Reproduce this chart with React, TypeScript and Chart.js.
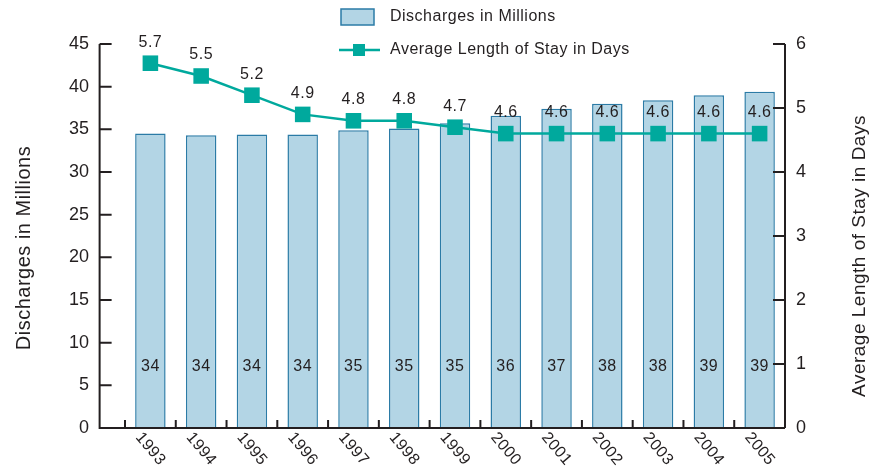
import React, { useEffect, useRef } from 'react';
import { Chart, registerables } from 'chart.js';

Chart.register(...registerables);

// ---- data ----
const years = ['1993', '1994', '1995', '1996', '1997', '1998', '1999', '2000', '2001', '2002', '2003', '2004', '2005'];
const discharges = [34.5, 34.3, 34.4, 34.4, 34.9, 35.1, 35.7, 36.6, 37.4, 38.0, 38.4, 39.0, 39.4];
const dischargeLabels = ['34', '34', '34', '34', '35', '35', '35', '36', '37', '38', '38', '39', '39'];
const stayDays = [5.7, 5.5, 5.2, 4.9, 4.8, 4.8, 4.7, 4.6, 4.6, 4.6, 4.6, 4.6, 4.6];
const stayLabels = ['5.7', '5.5', '5.2', '4.9', '4.8', '4.8', '4.7', '4.6', '4.6', '4.6', '4.6', '4.6', '4.6'];
const leftTicks = [0, 5, 10, 15, 20, 25, 30, 35, 40, 45];
const rightTicks = [0, 1, 2, 3, 4, 5, 6];
const barSeriesName = 'Discharges in Millions';
const lineSeriesName = 'Average Length of Stay in Days';
const leftAxisTitle = 'Discharges in Millions';
const rightAxisTitle = 'Average Length of Stay in Days';

// ---- styles ----
const BAR_FILL = '#B3D5E5';
const BAR_EDGE = '#2B7BA6';
const LINE = '#00A99D';
const INK = '#231F20';
const FONT = '"Liberation Sans", Arial, Helvetica, sans-serif';

const overlay = {
  id: 'overlay',
  afterDraw(chart: any) {
    const { ctx, chartArea, scales } = chart;
    const x = scales.x;
    const y = scales.y;
    const y1 = scales.y1;
    const step = x.getPixelForValue(1) - x.getPixelForValue(0);
    const axisLeft = x.getPixelForValue(-1);
    const axisRight = chartArea.right;
    const base = y.getPixelForValue(leftTicks[0]);
    const top = y.getPixelForValue(leftTicks[leftTicks.length - 1]);

    ctx.save();
    ctx.strokeStyle = INK;
    ctx.lineWidth = 2;
    ctx.lineCap = 'butt';
    // axis lines
    ctx.beginPath();
    ctx.moveTo(axisLeft, top);
    ctx.lineTo(axisLeft, base);
    ctx.lineTo(axisRight, base);
    ctx.moveTo(axisRight, base);
    ctx.lineTo(axisRight, y1.getPixelForValue(rightTicks[rightTicks.length - 1]));
    ctx.stroke();

    // tick marks
    ctx.beginPath();
    leftTicks.forEach((v) => {
      const py = y.getPixelForValue(v);
      ctx.moveTo(axisLeft, py);
      ctx.lineTo(axisLeft + 12, py);
    });
    rightTicks.forEach((v) => {
      const py = y1.getPixelForValue(v);
      ctx.moveTo(axisRight, py);
      ctx.lineTo(axisRight - 12, py);
    });
    for (let i = 0; i <= years.length; i++) {
      const px = x.getPixelForValue(i) - step / 2;
      ctx.moveTo(px, base);
      ctx.lineTo(px, base - 8);
    }
    ctx.stroke();

    // x labels (rotated clockwise)
    ctx.fillStyle = INK;
    (ctx as any).letterSpacing = '0.5px';
    ctx.font = `16px ${FONT}`;
    ctx.textAlign = 'center';
    ctx.textBaseline = 'middle';
    years.forEach((label, i) => {
      const px = x.getPixelForValue(i);
      ctx.save();
      ctx.translate(px, base + 21);
      ctx.rotate((50 * Math.PI) / 180);
      ctx.fillText(label, 0, 0);
      ctx.restore();
    });

    // bar value labels
    const barMeta = chart.getDatasetMeta(0);
    ctx.font = `16px ${FONT}`;
    barMeta.data.forEach((bar: any, i: number) => {
      ctx.fillText(dischargeLabels[i], bar.x, y.getPixelForValue(7.2));
    });

    // line value labels
    const lineMeta = chart.getDatasetMeta(1);
    lineMeta.data.forEach((pt: any, i: number) => {
      ctx.fillText(stayLabels[i], pt.x, pt.y - 21);
    });

    // axis titles
    ctx.font = `20px ${FONT}`;
    ctx.save();
    ctx.translate(axisLeft - 75, (top + base) / 2 + 12);
    ctx.rotate(-Math.PI / 2);
    ctx.fillText(leftAxisTitle, 0, 0);
    ctx.restore();
    ctx.font = `19px ${FONT}`;
    ctx.save();
    ctx.translate(axisRight + 75, (top + base) / 2 + 20);
    ctx.rotate(-Math.PI / 2);
    ctx.fillText(rightAxisTitle, 0, 0);
    ctx.restore();

    // legend
    ctx.font = `16px ${FONT}`;
    ctx.textAlign = 'left';
    ctx.fillStyle = BAR_FILL;
    ctx.fillRect(341, 9, 33, 16);
    ctx.strokeStyle = BAR_EDGE;
    ctx.lineWidth = 1.5;
    ctx.strokeRect(341, 9, 33, 16);
    ctx.fillStyle = INK;
    ctx.fillText(barSeriesName, 390, 17);

    ctx.strokeStyle = LINE;
    ctx.lineWidth = 2.5;
    ctx.beginPath();
    ctx.moveTo(339, 50);
    ctx.lineTo(380, 50);
    ctx.stroke();
    ctx.fillStyle = LINE;
    ctx.fillRect(353, 44, 12, 12);
    ctx.fillStyle = INK;
    ctx.fillText(lineSeriesName, 390, 50);

    ctx.restore();
  },
};

export default function App() {
  const canvasRef = useRef<HTMLCanvasElement | null>(null);

  useEffect(() => {
    if (!canvasRef.current) return;
    const chart = new Chart(canvasRef.current, {
      type: 'bar',
      data: {
        labels: years,
        datasets: [
          {
            type: 'bar',
            label: barSeriesName,
            data: discharges,
            yAxisID: 'y',
            backgroundColor: BAR_FILL,
            borderColor: BAR_EDGE,
            borderWidth: 1.5,
            barPercentage: 0.6,
            categoryPercentage: 1,
            order: 2,
          },
          {
            type: 'line',
            label: lineSeriesName,
            data: stayDays,
            yAxisID: 'y1',
            borderColor: LINE,
            backgroundColor: LINE,
            borderWidth: 2.5,
            pointStyle: 'rect',
            pointRadius: 11,
            pointBorderWidth: 0,
            pointBackgroundColor: LINE,
            tension: 0,
            order: 1,
          },
        ] as any,
      },
      options: {
        animation: false,
        responsive: true,
        maintainAspectRatio: false,
        layout: { padding: { top: 44, left: 0, right: 0, bottom: 0 } },
        plugins: {
          legend: { display: false },
          tooltip: { enabled: false },
        },
        scales: {
          x: {
            type: 'category',
            offset: true,
            grid: { display: false, drawTicks: false },
            border: { display: false },
            ticks: { display: false },
            afterFit: (s: any) => {
              s.height = 42;
              s.paddingLeft = 0;
              s.paddingRight = 0;
            },
          },
          y: {
            position: 'left',
            min: 0,
            max: 45,
            afterBuildTicks: (s: any) => {
              s.ticks = leftTicks.map((v) => ({ value: v }));
            },
            ticks: { color: INK, font: { size: 18, family: FONT }, padding: 36 },
            grid: { display: false, drawTicks: false },
            border: { display: false },
            afterFit: (s: any) => {
              s.width = 125;
              s.paddingTop = 0;
              s.paddingBottom = 0;
            },
          },
          y1: {
            position: 'right',
            min: 0,
            max: 6,
            afterBuildTicks: (s: any) => {
              s.ticks = rightTicks.map((v) => ({ value: v }));
            },
            ticks: { color: INK, font: { size: 18, family: FONT }, padding: 11 },
            grid: { display: false, drawTicks: false },
            border: { display: false },
            afterFit: (s: any) => {
              s.width = 86;
              s.paddingTop = 0;
              s.paddingBottom = 0;
            },
          },
        },
      } as any,
      plugins: [overlay],
    });
    return () => chart.destroy();
  }, []);

  return (
    <div style={{ position: 'fixed', left: 0, top: 0, width: 871, height: 470, background: '#fff' }}>
      <canvas ref={canvasRef} />
    </div>
  );
}
